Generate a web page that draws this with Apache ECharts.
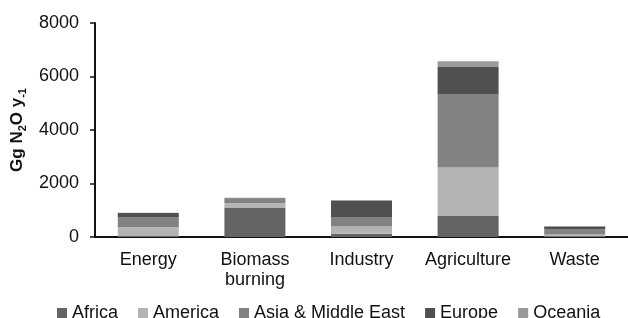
<!DOCTYPE html>
<html>
<head>
<meta charset="utf-8">
<script src="https://cdn.jsdelivr.net/npm/echarts@6/dist/echarts.min.js"></script>
<style>
  html, body { margin: 0; padding: 0; background: #fff; }
  #chart { width: 628px; height: 318px; }
</style>
</head>
<body>
<div id="chart"></div>
<script>
// N2O emissions by sector and region (Gg N2O / yr)
const categories = ['Energy', 'Biomass\nburning', 'Industry', 'Agriculture', 'Waste'];
const regions = ['Africa', 'America', 'Asia & Middle East', 'Europe', 'Oceania'];
const africa = [30, 1100, 120, 785, 20];
const america = [330, 160, 275, 1810, 70];
const asia = [370, 190, 350, 2750, 190];
const europe = [170, 10, 620, 1010, 115];
const oceania = [10, 10, 5, 215, 15];
const yTicks = [0, 2000, 4000, 6000, 8000];

const colors = ['#646464', '#b4b4b4', '#828282', '#505050', '#9a9a9a'];
const seriesValues = [africa, america, asia, europe, oceania];
const font = 'Liberation Sans, Arial, sans-serif';

const chart = echarts.init(document.getElementById('chart'));

chart.setOption({
  animation: false,
  textStyle: { fontFamily: font },
  grid: { left: 95, right: -3, top: 23, bottom: 81, containLabel: false },
  legend: {
    data: regions,
    left: 52,
    top: 299,
    icon: 'rect',
    itemWidth: 10,
    itemHeight: 10,
    itemGap: 20,
    textStyle: { fontSize: 18, color: '#111', fontFamily: font },
  },
  xAxis: {
    type: 'category',
    data: categories,
    axisLine: { lineStyle: { color: '#111', width: 2 } },
    axisTick: { show: false },
    axisLabel: {
      interval: 0,
      color: '#111',
      fontSize: 18,
      lineHeight: 20,
      margin: 13,
      fontFamily: font,
    },
  },
  yAxis: {
    type: 'value',
    min: yTicks[0],
    max: yTicks[yTicks.length - 1],
    interval: 2000,
    splitLine: { show: false },
    axisLine: { show: true, lineStyle: { color: '#111', width: 2 } },
    axisTick: { show: true, length: 5, lineStyle: { color: '#111', width: 1.5 } },
    axisLabel: { color: '#111', fontSize: 18, margin: 16, fontFamily: font, formatter: v => String(v) },
    name: '{a|Gg N}{s|2}{a|O y}{s|-1}',
    nameLocation: 'middle',
    nameRotate: 90,
    nameGap: 67,
    nameTextStyle: {
      rich: {
        a: { fontSize: 17, fontWeight: 'bold', color: '#111', lineHeight: 22, verticalAlign: 'middle', fontFamily: font },
        s: { fontSize: 11, fontWeight: 'bold', color: '#111', lineHeight: 22, verticalAlign: 'bottom', fontFamily: font },
      },
    },
  },
  series: regions.map((name, i) => ({
    name,
    type: 'bar',
    stack: 'total',
    barWidth: 61,
    data: seriesValues[i],
    itemStyle: { color: colors[i] },
  })),
});
</script>
</body>
</html>
